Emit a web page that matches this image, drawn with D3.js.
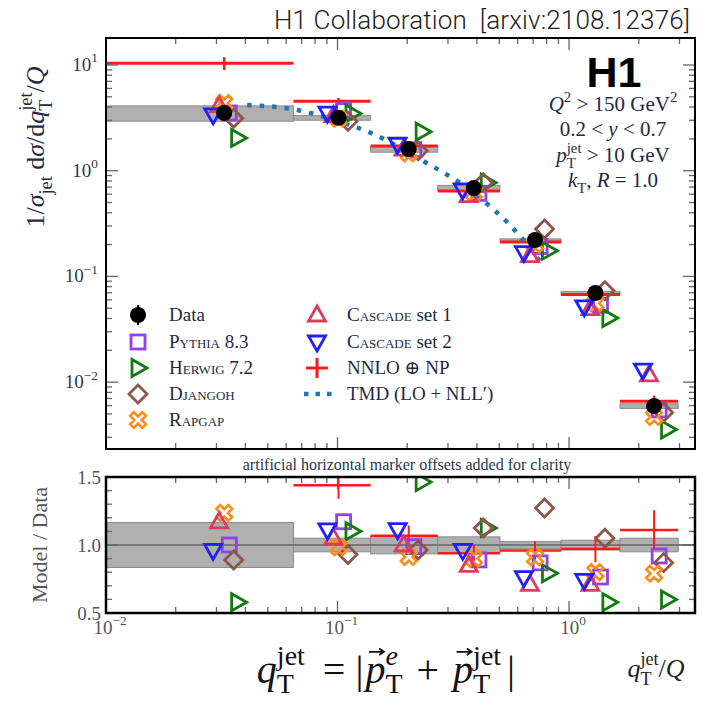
<!DOCTYPE html>
<html><head><meta charset="utf-8">
<script src="https://cdn.jsdelivr.net/npm/d3@7"></script>
<style>
html,body{margin:0;padding:0;background:#fff;}
svg{display:block;}
</style></head>
<body>
<svg id="c" width="702" height="702"></svg>
<script>
// ---------------- data ----------------
const binEdges   = [0.01, 0.0645, 0.139, 0.271, 0.503, 0.924, 1.66, 2.96];
const binCenters = [0.0324, 0.101, 0.203, 0.388, 0.713, 1.30, 2.33];
const dataValues = [3.52, 3.16, 1.60, 0.685, 0.221, 0.0697, 0.00594];
const dataStatRel = [0.01, 0.01, 0.01, 0.015, 0.02, 0.03, 0.05];
const dataSystRel = [0.165, 0.05, 0.065, 0.06, 0.025, 0.035, 0.05];
const pythiaValues   = [3.52, 3.70, 1.58, 0.610, 0.192, 0.0533, 0.00546];
const herwigValues   = [2.04, 3.48, 2.34, 0.771, 0.175, 0.0404, 0.00356];
const djangohValues  = [3.13, 2.94, 1.54, 0.771, 0.281, 0.0732, 0.00517];
const rapgapValues   = [4.35, 3.11, 1.46, 0.617, 0.201, 0.0558, 0.00469];
const cascade1Values = [4.12, 3.32, 1.60, 0.582, 0.157, 0.0495, 0.0117];
const cascade2Values = [3.38, 3.51, 1.78, 0.658, 0.168, 0.0516, 0.0130];
const nnloValues = [10.4, 4.55, 1.71, 0.644, 0.212, 0.0676, 0.0066];
const nnloErrRel = [0.14, 0.07, 0.07, 0.06, 0.07, 0.10, 0.13];
const tmdX = [0.0407, 0.0671, 0.103, 0.139, 0.222, 0.388, 0.619, 0.780];
const tmdY = [4.19, 3.75, 2.89, 2.28, 1.32, 0.615, 0.236, 0.123];
const upperYTicks = [0.01, 0.1, 1, 10];
const upperYTickExp = ["\u22122", "\u22121", "0", "1"];
const xTicks = [0.01, 0.1, 1];
const xTickExp = ["\u22122", "\u22121", "0"];
const lowerYTicks = [0.5, 1.0, 1.5];

// model styling (artificial offsets in decades)
const models = [
  {name:"Pythia",   vals:pythiaValues,   shape:"square",  color:"#9340e6", off:0.022},
  {name:"Herwig",   vals:herwigValues,   shape:"tright",  color:"#137a13", off:0.058},
  {name:"Djangoh",  vals:djangohValues,  shape:"diamond", color:"#8c564b", off:0.041},
  {name:"Rapgap",   vals:rapgapValues,   shape:"x",       color:"#ff8c1a", off:0.0},
  {name:"Cascade1", vals:cascade1Values, shape:"tup",     color:"#dc3c5c", off:-0.022},
  {name:"Cascade2", vals:cascade2Values, shape:"tdown",   color:"#1f1fff", off:-0.048}
];

// ---------------- layout ----------------
const L = 106, R = 695, UT = 38, UB = 449, LT = 477, LB = 613;
const svg = d3.select("#c");
const x = d3.scaleLog().domain([0.01, 3.5]).range([L, R]);
const yU = d3.scaleLog().domain([0.00233, 18]).range([UB, UT]);
const yL = d3.scaleLinear().domain([0.5, 1.5]).range([LB, LT]);
const SERIF = "'Liberation Serif','DejaVu Serif',serif";
const NAVY = "#2e3a55", GRAY = "#555";

const defs = svg.append("defs");
defs.append("clipPath").attr("id","cu").append("rect").attr("x",L).attr("y",UT).attr("width",R-L).attr("height",UB-UT);
defs.append("clipPath").attr("id","cl").append("rect").attr("x",L).attr("y",LT).attr("width",R-L).attr("height",LB-LT);

function xoff(v, dex){ return x(v * Math.pow(10, dex)); }

function marker(g, shape, cx, cy, color){
  const sw = 2.8;
  if(shape==="square"){
    g.append("rect").attr("x",cx-7).attr("y",cy-7).attr("width",14).attr("height",14)
      .attr("fill","none").attr("stroke",color).attr("stroke-width",sw);
  } else if(shape==="diamond"){
    g.append("path").attr("d",`M${cx},${cy-9}L${cx+9},${cy}L${cx},${cy+9}L${cx-9},${cy}Z`)
      .attr("fill","none").attr("stroke",color).attr("stroke-width",sw);
  } else if(shape==="tup"){
    g.append("path").attr("d",`M${cx},${cy-9}L${cx+8.5},${cy+6}L${cx-8.5},${cy+6}Z`)
      .attr("fill","none").attr("stroke",color).attr("stroke-width",sw);
  } else if(shape==="tdown"){
    g.append("path").attr("d",`M${cx},${cy+9}L${cx+8.5},${cy-6}L${cx-8.5},${cy-6}Z`)
      .attr("fill","none").attr("stroke",color).attr("stroke-width",sw);
  } else if(shape==="tright"){
    g.append("path").attr("d",`M${cx+9},${cy}L${cx-6},${cy+8.5}L${cx-6},${cy-8.5}Z`)
      .attr("fill","none").attr("stroke",color).attr("stroke-width",sw);
  } else if(shape==="x"){
    const a=2.6, l=8.5;
    const pts=[[a,l],[a,a],[l,a],[l,-a],[a,-a],[a,-l],[-a,-l],[-a,-a],[-l,-a],[-l,a],[-a,a],[-a,l]];
    const c=Math.SQRT1_2;
    const d="M"+pts.map(p=>[(p[0]-p[1])*c+cx,(p[0]+p[1])*c+cy].map(v=>v.toFixed(2)).join(",")).join("L")+"Z";
    g.append("path").attr("d",d).attr("fill","none").attr("stroke",color).attr("stroke-width",2.6);
  }
}

// measured rich-text layout. parts: {t, i, s:'sub'|'sup', stack, arrow, sc, gap}
function rich(parent, xx, yy, parts, fs, opts){
  opts = opts||{};
  const g = parent.append("g");
  const inner = g.append("g");
  let cx = 0, prevX = 0;
  const subK = opts.subK || 0.3;
  parts.forEach(p=>{
    let dy = 0, size = fs;
    if(p.s==="sub"){ dy = subK*fs; size = 0.7*fs; }
    if(p.s==="sup"){ dy = -0.45*fs; size = 0.7*fs; }
    const startX = p.stack ? prevX : cx + (p.gap||0);
    const t = inner.append("text").attr("x",startX).attr("y",dy)
      .attr("font-family",SERIF).attr("font-size",size).attr("fill",opts.fill||"#222")
      .style("white-space","pre").text(p.t);
    if(p.i) t.attr("font-style","italic");
    if(p.sc) t.style("font-variant","small-caps");
    const w = t.node().getComputedTextLength();
    if(p.arrow){
      const ax = startX + w*0.55, ay = dy - 0.78*size, aw = w*0.75;
      inner.append("path").attr("d",`M${ax-aw/2},${ay}L${ax+aw/2},${ay}M${ax+aw/2-size*0.12},${ay-size*0.08}L${ax+aw/2},${ay}L${ax+aw/2-size*0.12},${ay+size*0.08}`)
        .attr("fill","none").attr("stroke",opts.fill||"#222").attr("stroke-width",Math.max(1,size*0.045));
    }
    if(p.stack){ cx = Math.max(cx, startX + w); }
    else { prevX = startX; cx = startX + w; }
  });
  const total = cx;
  let shift = 0;
  if(opts.anchor==="middle") shift = -total/2;
  if(opts.anchor==="end") shift = -total;
  inner.attr("transform",`translate(${shift},0)`);
  g.attr("transform",`translate(${xx},${yy})` + (opts.rotate?` rotate(${opts.rotate})`:""));
  return g;
}

// ---------------- title ----------------
svg.append("text").attr("x",690).attr("y",29).attr("text-anchor","end")
  .attr("font-family","Roboto, 'Open Sans', sans-serif").attr("font-weight",300)
  .attr("font-size",26).attr("fill","#222").style("white-space","pre")
  .attr("textLength",416).attr("lengthAdjust","spacing")
  .text("H1 Collaboration  [arxiv:2108.12376]");

// ---------------- upper panel ----------------
const up = svg.append("g");
const upc = up.append("g").attr("clip-path","url(#cu)");

dataValues.forEach((v,i)=>{
  upc.append("rect").attr("x",x(binEdges[i])).attr("width",x(binEdges[i+1])-x(binEdges[i]))
    .attr("y",yU(v*(1+dataSystRel[i]))).attr("height",yU(v*(1-dataSystRel[i]))-yU(v*(1+dataSystRel[i])))
    .attr("fill","#b0b0b0").attr("stroke","#8a8a8a").attr("stroke-width",1);
});
nnloValues.forEach((v,i)=>{
  upc.append("line").attr("x1",x(binEdges[i])).attr("x2",x(binEdges[i+1])).attr("y1",yU(v)).attr("y2",yU(v))
    .attr("stroke","#ff1a1a").attr("stroke-width",3);
  upc.append("line").attr("x1",x(binCenters[i])).attr("x2",x(binCenters[i]))
    .attr("y1",yU(v*(1+nnloErrRel[i]))).attr("y2",yU(v*(1-nnloErrRel[i])))
    .attr("stroke","#ff1a1a").attr("stroke-width",2.5);
});
upc.append("path").datum(tmdX.map((v,i)=>[v,tmdY[i]]))
  .attr("d",d3.line().x(d=>x(d[0])).y(d=>yU(d[1])).curve(d3.curveMonotoneX))
  .attr("fill","none").attr("stroke","#1f77b4").attr("stroke-width",4.5).attr("stroke-dasharray","4.5,8");
models.forEach(m=>{
  m.vals.forEach((v,i)=> marker(upc, m.shape, xoff(binCenters[i], m.off), yU(v), m.color));
});
dataValues.forEach((v,i)=>{
  upc.append("line").attr("x1",x(binCenters[i])).attr("x2",x(binCenters[i]))
    .attr("y1",yU(v*(1+dataStatRel[i]))).attr("y2",yU(v*(1-dataStatRel[i])))
    .attr("stroke","#000").attr("stroke-width",2);
  upc.append("circle").attr("cx",x(binCenters[i])).attr("cy",yU(v)).attr("r",8).attr("fill","#000");
});

function xTicksOn(g, yTop, yBot){
  [0.01,0.1,1].forEach(d=>{
    for(let k=1;k<=9;k++){
      const v=d*k; if(v>3.5) break;
      const len = k===1?12:6;
      g.append("line").attr("x1",x(v)).attr("x2",x(v)).attr("y1",yTop).attr("y2",yTop+len).attr("stroke","#666").attr("stroke-width",1.3);
      g.append("line").attr("x1",x(v)).attr("x2",x(v)).attr("y1",yBot).attr("y2",yBot-len).attr("stroke","#666").attr("stroke-width",1.3);
    }
  });
}
xTicksOn(up, UT, UB);
[0.001,0.01,0.1,1,10].forEach(d=>{
  for(let k=1;k<=9;k++){
    const v=d*k; if(v<0.00233||v>18) continue;
    const len = k===1?12:6;
    up.append("line").attr("x1",L).attr("x2",L+len).attr("y1",yU(v)).attr("y2",yU(v)).attr("stroke","#666").attr("stroke-width",1.3);
    up.append("line").attr("x1",R).attr("x2",R-len).attr("y1",yU(v)).attr("y2",yU(v)).attr("stroke","#666").attr("stroke-width",1.3);
  }
});
up.append("rect").attr("x",L).attr("y",UT).attr("width",R-L).attr("height",UB-UT)
  .attr("fill","none").attr("stroke","#000").attr("stroke-width",2);
upperYTicks.forEach((v,i)=>{
  rich(svg, 98, yU(v)+6, [{t:"10"},{t:upperYTickExp[i],s:"sup"}], 19, {anchor:"end", fill:NAVY});
});

// H1 + annotation
svg.append("text").attr("x",614).attr("y",87).attr("text-anchor","middle")
  .attr("font-family","'Liberation Sans',Arial,sans-serif").attr("font-weight","bold").attr("font-size",43)
  .attr("fill","#000").text("H1");
const ann = svg.append("g"), AC = "#1e2a44", AF = 21;
rich(ann, 613, 111, [{t:"Q",i:1},{t:"2",s:"sup"},{t:" > 150 GeV"},{t:"2",s:"sup"}], AF, {anchor:"middle", fill:AC});
rich(ann, 613, 136, [{t:"0.2 < "},{t:"y",i:1},{t:" < 0.7"}], AF, {anchor:"middle", fill:AC});
rich(ann, 613, 162, [{t:"p",i:1},{t:"T",s:"sub"},{t:"jet",s:"sup",stack:1},{t:" > 10 GeV"}], AF, {anchor:"middle", fill:AC});
rich(ann, 613, 187, [{t:"k",i:1},{t:"T",s:"sub"},{t:", "},{t:"R",i:1},{t:" = 1.0"}], AF, {anchor:"middle", fill:AC});

// y label upper
rich(svg, 44, 147, [{t:"1/"},{t:"σ",i:1},{t:"jet",s:"sub"},{t:" d"},{t:"σ",i:1},{t:"/d"},{t:"q",i:1},
  {t:"T",s:"sub"},{t:"jet",s:"sup",stack:1},{t:"/"},{t:"Q",i:1}], 26,
  {anchor:"middle", fill:AC, rotate:-90});

// legend
const lg = svg.append("g");
const col1 = 138, col2 = 317, rows=[315,342,368,394,420];
lg.append("line").attr("x1",col1).attr("x2",col1).attr("y1",rows[0]-10).attr("y2",rows[0]+10).attr("stroke","#000").attr("stroke-width",2);
lg.append("circle").attr("cx",col1).attr("cy",rows[0]).attr("r",8).attr("fill","#000");
marker(lg,"square",col1,rows[1],models[0].color);
marker(lg,"tright",col1,rows[2],models[1].color);
marker(lg,"diamond",col1,rows[3],models[2].color);
marker(lg,"x",col1,rows[4],models[3].color);
marker(lg,"tup",col2,rows[0],models[4].color);
marker(lg,"tdown",col2,rows[1],models[5].color);
lg.append("line").attr("x1",col2-11).attr("x2",col2+11).attr("y1",rows[2]).attr("y2",rows[2]).attr("stroke","#ff1a1a").attr("stroke-width",3);
lg.append("line").attr("x1",col2).attr("x2",col2).attr("y1",rows[2]-10).attr("y2",rows[2]+10).attr("stroke","#ff1a1a").attr("stroke-width",3);
lg.append("line").attr("x1",col2-13).attr("x2",col2+15).attr("y1",rows[3]).attr("y2",rows[3]).attr("stroke","#1f77b4").attr("stroke-width",4.5).attr("stroke-dasharray","4.5,7");
const tx1 = 169, tx2 = 347, LF = 19, LC="#1e2a44";
rich(lg, tx1, rows[0]+6, [{t:"Data"}], LF, {fill:LC});
rich(lg, tx1, rows[1]+6, [{t:"Pythia",sc:1},{t:" 8.3"}], LF, {fill:LC});
rich(lg, tx1, rows[2]+6, [{t:"Herwig",sc:1},{t:" 7.2"}], LF, {fill:LC});
rich(lg, tx1, rows[3]+6, [{t:"Djangoh",sc:1}], LF, {fill:LC});
rich(lg, tx1, rows[4]+6, [{t:"Rapgap",sc:1}], LF, {fill:LC});
rich(lg, tx2, rows[0]+6, [{t:"Cascade",sc:1},{t:" set 1"}], LF, {fill:LC});
rich(lg, tx2, rows[1]+6, [{t:"Cascade",sc:1},{t:" set 2"}], LF, {fill:LC});
rich(lg, tx2, rows[2]+6, [{t:"NNLO ⊕ NP"}], LF, {fill:LC});
rich(lg, tx2, rows[3]+6, [{t:"TMD (LO + NLL′)"}], LF, {fill:LC});

svg.append("text").attr("x",407).attr("y",470).attr("text-anchor","middle").attr("font-family",SERIF)
  .attr("font-size",16).attr("fill","#2a3550").text("artificial horizontal marker offsets added for clarity");

// ---------------- lower panel ----------------
const lo = svg.append("g");
const loc = lo.append("g").attr("clip-path","url(#cl)");
dataValues.forEach((v,i)=>{
  loc.append("rect").attr("x",x(binEdges[i])).attr("width",x(binEdges[i+1])-x(binEdges[i]))
    .attr("y",yL(1+dataSystRel[i])).attr("height",yL(1-dataSystRel[i])-yL(1+dataSystRel[i]))
    .attr("fill","#b0b0b0").attr("stroke","#8a8a8a").attr("stroke-width",1);
});
loc.append("line").attr("x1",L).attr("x2",R).attr("y1",yL(1)).attr("y2",yL(1)).attr("stroke","#777").attr("stroke-width",1.8);
nnloValues.forEach((v,i)=>{
  const r = v/dataValues[i];
  loc.append("line").attr("x1",x(binEdges[i])).attr("x2",x(binEdges[i+1])).attr("y1",yL(r)).attr("y2",yL(r))
    .attr("stroke","#ff1a1a").attr("stroke-width",2.5);
  loc.append("line").attr("x1",x(binCenters[i])).attr("x2",x(binCenters[i]))
    .attr("y1",yL(r*(1+nnloErrRel[i]))).attr("y2",yL(r*(1-nnloErrRel[i])))
    .attr("stroke","#ff1a1a").attr("stroke-width",2);
});
models.forEach(m=>{
  m.vals.forEach((v,i)=> marker(loc, m.shape, xoff(binCenters[i], m.off), yL(v/dataValues[i]), m.color));
});
xTicksOn(lo, LT, LB);
for(let k=5;k<=15;k++){
  const v=k/10, len=(k%5===0)?12:6;
  lo.append("line").attr("x1",L).attr("x2",L+len).attr("y1",yL(v)).attr("y2",yL(v)).attr("stroke","#666").attr("stroke-width",1.3);
  lo.append("line").attr("x1",R).attr("x2",R-len).attr("y1",yL(v)).attr("y2",yL(v)).attr("stroke","#666").attr("stroke-width",1.3);
}
lo.append("rect").attr("x",L).attr("y",LT).attr("width",R-L).attr("height",LB-LT)
  .attr("fill","none").attr("stroke","#000").attr("stroke-width",2.5);
lowerYTicks.forEach(v=>{
  svg.append("text").attr("x",101).attr("y",yL(v)+7).attr("text-anchor","end").attr("font-family",SERIF)
    .attr("font-size",19).attr("fill",GRAY).text(d3.format(".1f")(v));
});
xTicks.forEach((v,i)=>{
  rich(svg, x(v)+4, 634, [{t:"10"},{t:xTickExp[i],s:"sup"}], 19, {anchor:"middle", fill:GRAY});
});
svg.append("text").attr("x",47).attr("y",545).attr("text-anchor","middle").attr("font-family",SERIF)
  .attr("font-size",22).attr("fill",GRAY).attr("transform","rotate(-90,47,545)").text("Model / Data");

// x labels
rich(svg, 386, 683, [{t:"q",i:1},{t:"T",s:"sub"},{t:"jet",s:"sup",stack:1},{t:" = |",gap:8},{t:"p",i:1,arrow:1,gap:2},{t:"T",s:"sub"},{t:"e",s:"sup",i:1,stack:1},
  {t:" + ",gap:4},{t:"p",i:1,arrow:1,gap:4},{t:"T",s:"sub"},{t:"jet",s:"sup",stack:1},{t:"|",gap:6}], 40, {anchor:"middle", fill:"#111", subK:0.25});
rich(svg, 656, 677, [{t:"q",i:1},{t:"T",s:"sub"},{t:"jet",s:"sup",stack:1},{t:"/"},{t:"Q",i:1}], 26, {anchor:"middle", fill:"#222"});
</script>
</body></html>
